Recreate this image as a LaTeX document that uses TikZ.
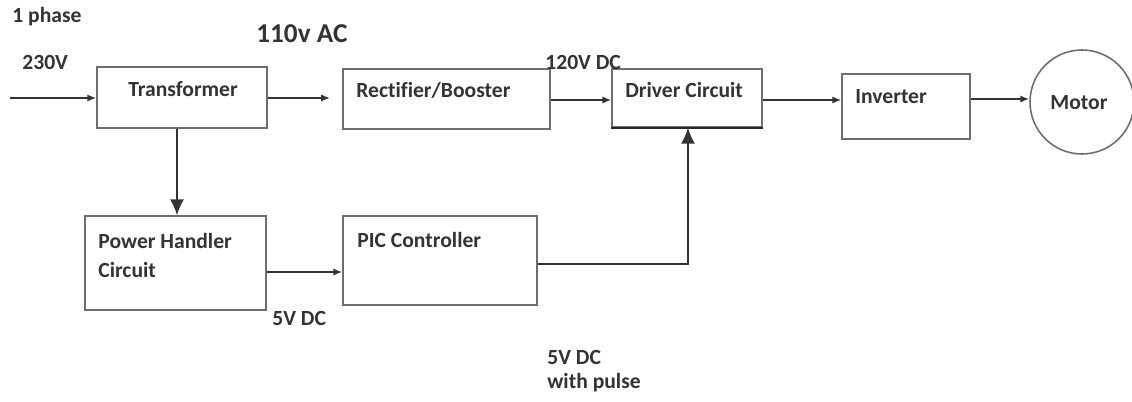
\documentclass[tikz,border=0pt]{standalone}
\usepackage{fontspec}
\setmainfont{Carlito}[Ligatures=NoCommon]
\usetikzlibrary{arrows.meta}
\definecolor{txt}{HTML}{333333}
\definecolor{boxc}{HTML}{6E6E6E}
\tikzset{
  blk/.style={draw=boxc, line width=0.9pt, rectangle, inner sep=0pt},
  lbl/.style={text=txt, font=\bfseries\fontsize{12.3}{14}\selectfont, inner sep=0pt, anchor=west},
  con/.style={draw=black!80, line width=0.8pt, -{Latex[length=5pt,width=4pt]}},
  big/.style={text=txt, font=\bfseries\fontsize{15.5}{18}\selectfont, inner sep=0pt, anchor=west}
}
\begin{document}
\begin{tikzpicture}[x=0.02cm,y=-0.02cm]
\useasboundingbox (0,0) rectangle (1132,402);
% boxes
\node[blk, minimum width=170*0.02cm, minimum height=61*0.02cm] (tr) at (182,97.5) {};
\node[blk, minimum width=207*0.02cm, minimum height=60*0.02cm] (rb) at (446.5,99) {};
\node[blk, minimum width=150*0.02cm, minimum height=58*0.02cm] (dc) at (687,98) {};
\node[blk, minimum width=128*0.02cm, minimum height=65*0.02cm] (inv) at (906,106.5) {};
\node[blk, circle, minimum size=104*0.02cm] (mot) at (1082,102) {};
\node[blk, minimum width=181*0.02cm, minimum height=94*0.02cm] (ph) at (175.5,263) {};
\node[blk, minimum width=194*0.02cm, minimum height=89*0.02cm] (pic) at (440,260.5) {};
\draw[black!85, line width=1.3pt] (dc.south west) -- (dc.south east);
% labels
\node[lbl] (ltr) at (128,89) {Transformer};
\node[lbl] (lrb) at (356,90) {Rectifier/Booster};
\node[lbl] (ldc) at (625,90) {Driver Circuit};
\node[lbl] (linv) at (855,97) {Inverter};
\node[lbl] (lmot) at (1050,103) {Motor};
\node[lbl] (lph1) at (98,241) {Power Handler};
\node[lbl] (lph2) at (98,270) {Circuit};
\node[lbl] (lpic) at (357,240) {PIC Controller};
\node[lbl] (t1) at (12,17) {1 phase};
\node[lbl] (t2) at (22,62) {230V};
\node[big] (t3) at (256,34) {110v AC};
\node[lbl] (t4) at (545,62) {120V DC};
\node[lbl] (t5) at (272,318) {5V DC};
\node[lbl] (t6) at (547,357) {5V DC};
\node[lbl] (t7) at (547,383) {with pulse};
% connectors
\coordinate (in) at (10,98);
\draw[con] (in) -- (tr.west |- in);
\draw[con] (tr.east |- 0,98) -- (330,98) coordinate (a1);
\draw[con] (rb.east |- 0,100) -- (dc.west |- 0,100);
\draw[con] (dc.east |- 0,100) -- (inv.west |- 0,100);
\draw[con] (inv.east |- 0,99) -- (mot.west |- 0,99);
\draw[con, line width=1.1pt, -{Latex[length=9pt,width=8pt]}] (tr.south -| 177,0) -- (ph.north -| 177,0);
\draw[con] (ph.east |- 0,272) -- (pic.west |- 0,272);
\draw[con, line width=1.1pt, -{Latex[length=9pt,width=8pt]}] (pic.east |- 0,264) -| (dc.south -| 688,0);
\end{tikzpicture}
\end{document}
